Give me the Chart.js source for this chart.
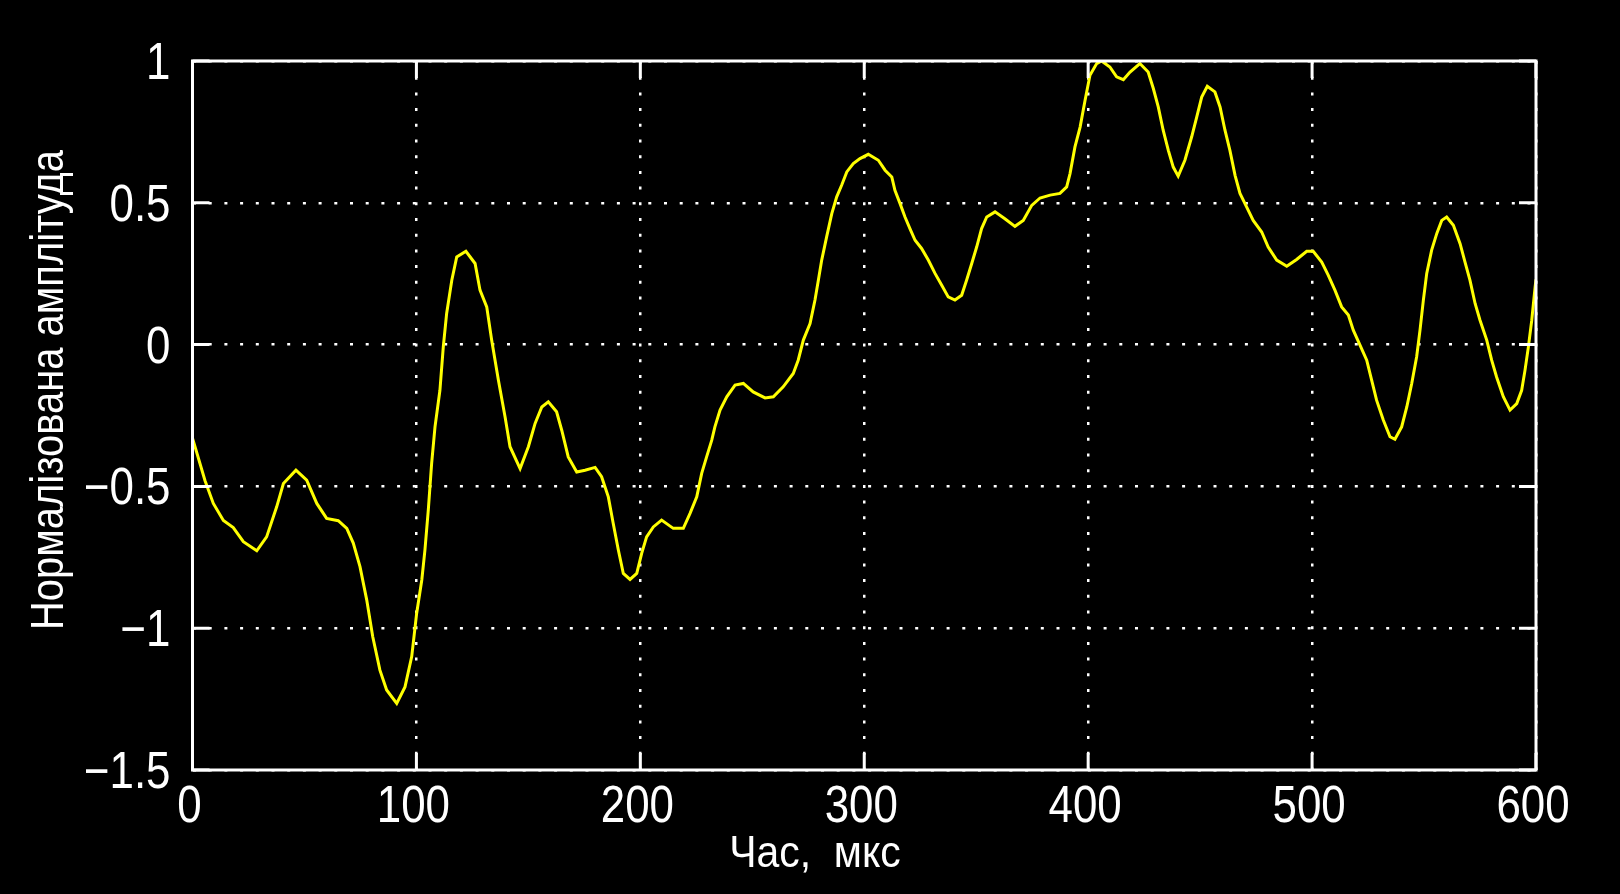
<!DOCTYPE html>
<html>
<head>
<meta charset="utf-8">
<title>Нормалізована амплітуда</title>
<script src="https://cdn.jsdelivr.net/npm/chart.js@4.4.1/dist/chart.umd.min.js"></script>
<style>
  html, body { margin: 0; padding: 0; background: #000; }
  canvas { display: block; }
</style>
</head>
<body>
<canvas id="signalChart" width="1620" height="894"></canvas>
<script>
// Time samples (мкс) and normalized amplitude
const timeUs = [
    0, 5.6, 9.3, 13.8, 18.2, 22.7, 28.7, 33.1, 37.6, 40.6,
    46.2, 51, 55.5, 59.9, 65.1, 68.9, 71.8, 74.8, 77.8, 80.5,
    83.7, 86.7, 91.2, 94.9, 97.9, 100.1, 102.4, 103.8, 105.3, 106.8,
    108.3, 110.5, 112, 113.5, 115.8, 118, 122.1, 126.2, 128.4, 131.4,
    133.6, 136.6, 139.6, 141.8, 146.3, 150, 153, 156, 158.9, 162.6,
    164.9, 167.8, 171.6, 175.3, 179.8, 182.7, 185.7, 187.9, 190.2, 192.4,
    195.4, 198.4, 200.6, 202.8, 205.8, 209.5, 214.7, 219.2, 222.2, 225.2,
    227.4, 229.6, 231.9, 233.3, 235.6, 238.6, 242.3, 246, 250.4, 255.7,
    259.4, 263.8, 268.3, 270.5, 272.8, 275.8, 278, 279.5, 281, 283.2,
    285.5, 287.7, 289.9, 292.2, 295.1, 298.1, 301.8, 306.3, 309.3, 312.3,
    313.7, 316, 318.2, 320.4, 322.7, 325.6, 328.6, 331.6, 334.6, 337.5,
    340.5, 343.5, 345.7, 348, 350.2, 352.4, 354.7, 358.4, 362.8, 367.3,
    371, 374.8, 378.5, 383, 387.4, 390.4, 391.9, 394.1, 396.4, 398.6,
    400.8, 403.8, 406, 409.7, 412.7, 415.7, 418.7, 423.1, 426.8, 429.1,
    431.3, 433.5, 435.8, 438, 440.2, 443.2, 446.2, 448.5, 450.7, 453.2,
    456.6, 458.9, 461.1, 463.3, 465.6, 467.8, 470.8, 473.7, 477.5, 480.4,
    484.2, 488.7, 493.1, 497.6, 500.5, 504.3, 507.2, 510.2, 513.2, 516.2,
    518.4, 521.4, 524.4, 526.6, 528.8, 531.8, 534.8, 537, 540, 542.3,
    544.5, 546.7, 548.2, 549.7, 551.2, 553.4, 555.7, 557.9, 560.1, 563.1,
    566.1, 568.3, 570.5, 572.8, 575, 578, 580.2, 582.4, 585.4, 588.4,
    591.4, 593.6, 595.1, 596.6, 598.1, 599.6, 600
];
const amplitude = [
    -0.33, -0.48, -0.56, -0.62, -0.645, -0.695, -0.727, -0.678, -0.572, -0.49,
    -0.443, -0.478, -0.56, -0.613, -0.621, -0.648, -0.70, -0.783, -0.90, -1.03,
    -1.148, -1.218, -1.265, -1.207, -1.10, -0.948, -0.83, -0.725, -0.584, -0.419,
    -0.29, -0.161, -0.008, 0.11, 0.227, 0.309, 0.329, 0.286, 0.192, 0.133,
    0.016, -0.125, -0.255, -0.36, -0.437, -0.36, -0.278, -0.22, -0.202, -0.237,
    -0.302, -0.396, -0.449, -0.443, -0.433, -0.466, -0.537, -0.631, -0.725, -0.807,
    -0.828, -0.807, -0.736, -0.678, -0.643, -0.619, -0.648, -0.648, -0.595, -0.537,
    -0.454, -0.396, -0.337, -0.29, -0.231, -0.184, -0.143, -0.137, -0.167, -0.188,
    -0.184, -0.149, -0.102, -0.055, 0.016, 0.074, 0.157, 0.227, 0.298, 0.38,
    0.462, 0.521, 0.562, 0.609, 0.638, 0.656, 0.671, 0.65, 0.615, 0.591,
    0.544, 0.497, 0.45, 0.409, 0.368, 0.339, 0.298, 0.251, 0.209, 0.168,
    0.157, 0.174, 0.227, 0.286, 0.344, 0.409, 0.45, 0.468, 0.444, 0.417,
    0.438, 0.491, 0.517, 0.527, 0.533, 0.556, 0.603, 0.697, 0.767, 0.861,
    0.95, 0.991, 1.0, 0.979, 0.944, 0.934, 0.961, 0.991, 0.961, 0.903,
    0.838, 0.756, 0.685, 0.626, 0.594, 0.65, 0.732, 0.803, 0.873, 0.911,
    0.891, 0.838, 0.756, 0.685, 0.597, 0.533, 0.485, 0.438, 0.397, 0.344,
    0.298, 0.276, 0.3, 0.329, 0.329, 0.291, 0.245, 0.192, 0.133, 0.104,
    0.051, -0.002, -0.055, -0.125, -0.196, -0.266, -0.325, -0.334, -0.29, -0.22,
    -0.137, -0.043, 0.051, 0.157, 0.251, 0.333, 0.392, 0.438, 0.45, 0.421,
    0.356, 0.291, 0.227, 0.145, 0.086, 0.016, -0.055, -0.114, -0.184, -0.231,
    -0.208, -0.161, -0.09, -0.008, 0.086, 0.203, 0.23
];

// Tick values and axis titles
const xTicks = [0, 100, 200, 300, 400, 500, 600];
const yTicks = [-1.5, -1, -0.5, 0, 0.5, 1];
const xTitle = 'Час,  мкс';
const yTitle = 'Нормалізована амплітуда';

const FONT = '"Liberation Sans", Arimo, Arial, sans-serif';

function fmtTick(v) {
    return v < 0 ? '\u2212' + String(-v) : String(v);
}

// draw text squeezed horizontally (the original uses a narrow face)
function narrowText(ctx, text, x, y, squeeze) {
    ctx.save();
    ctx.translate(x, y);
    ctx.scale(squeeze, 1);
    ctx.fillText(text, 0, 0);
    ctx.restore();
}

// MATLAB-style frame: box on all four sides with inward ticks, labels and titles
const framePlugin = {
    id: 'matlabFrame',
    beforeDraw(chart) {
        const ctx = chart.ctx;
        ctx.save();
        ctx.fillStyle = '#000';
        ctx.fillRect(0, 0, chart.width, chart.height);
        ctx.restore();
    },
    afterDraw(chart) {
        const ctx = chart.ctx;
        const a = chart.chartArea;
        const xs = chart.scales.x;
        const ys = chart.scales.y;
        const tickLen = 17;

        ctx.save();
        ctx.strokeStyle = '#fff';
        ctx.lineWidth = 3;
        ctx.setLineDash([]);
        ctx.strokeRect(a.left, a.top, a.right - a.left, a.bottom - a.top);

        ctx.beginPath();
        xTicks.forEach(v => {
            const px = xs.getPixelForValue(v);
            ctx.moveTo(px, a.bottom);
            ctx.lineTo(px, a.bottom - tickLen);
            ctx.moveTo(px, a.top);
            ctx.lineTo(px, a.top + tickLen);
        });
        yTicks.forEach(v => {
            const py = ys.getPixelForValue(v);
            ctx.moveTo(a.left, py);
            ctx.lineTo(a.left + tickLen, py);
            ctx.moveTo(a.right, py);
            ctx.lineTo(a.right - tickLen, py);
        });
        ctx.stroke();

        // tick labels
        ctx.fillStyle = '#fff';
        ctx.font = '51px ' + FONT;
        ctx.textBaseline = 'alphabetic';
        ctx.textAlign = 'center';
        xTicks.forEach(v => {
            narrowText(ctx, fmtTick(v), xs.getPixelForValue(v) - 3, a.bottom + 52, 0.86);
        });
        ctx.textAlign = 'right';
        yTicks.forEach(v => {
            narrowText(ctx, fmtTick(v), a.left - 22, ys.getPixelForValue(v) + 18, 0.86);
        });

        // axis titles
        ctx.textAlign = 'center';
        ctx.font = '44px ' + FONT;
        narrowText(ctx, xTitle, 815, 867, 0.93);

        ctx.translate(63, 390);
        ctx.rotate(-Math.PI / 2);
        ctx.font = '47px ' + FONT;
        narrowText(ctx, yTitle, 0, 0, 0.85);
        ctx.restore();
    }
};

const ctx = document.getElementById('signalChart').getContext('2d');
const chart = new Chart(ctx, {
    type: 'line',
    data: {
        datasets: [{
            data: timeUs.map((t, i) => ({ x: t, y: amplitude[i] })),
            borderColor: '#ffff00',
            borderWidth: 3,
            pointRadius: 0,
            tension: 0,
            fill: false
        }]
    },
    options: {
        responsive: false,
        animation: false,
        devicePixelRatio: 1,
        layout: {
            padding: { top: 61, right: 84, bottom: 0, left: 0 }
        },
        plugins: {
            legend: { display: false },
            tooltip: { enabled: false }
        },
        scales: {
            x: {
                type: 'linear',
                min: 0,
                max: 600,
                afterFit: function(scale) { scale.height = 124; },
                afterBuildTicks: function(scale) {
                    scale.ticks = xTicks.map(v => ({ value: v }));
                },
                border: { display: false, dash: [3, 12.7] },
                grid: {
                    color: '#fff',
                    lineWidth: 2.5,
                    drawTicks: false
                },
                ticks: { display: false }
            },
            y: {
                type: 'linear',
                min: -1.5,
                max: 1,
                afterFit: function(scale) { scale.width = 192.5; },
                afterBuildTicks: function(scale) {
                    scale.ticks = yTicks.map(v => ({ value: v }));
                },
                border: { display: false, dash: [3, 12.7] },
                grid: {
                    color: '#fff',
                    lineWidth: 2.5,
                    drawTicks: false
                },
                ticks: { display: false }
            }
        }
    },
    plugins: [framePlugin]
});
</script>
</body>
</html>
